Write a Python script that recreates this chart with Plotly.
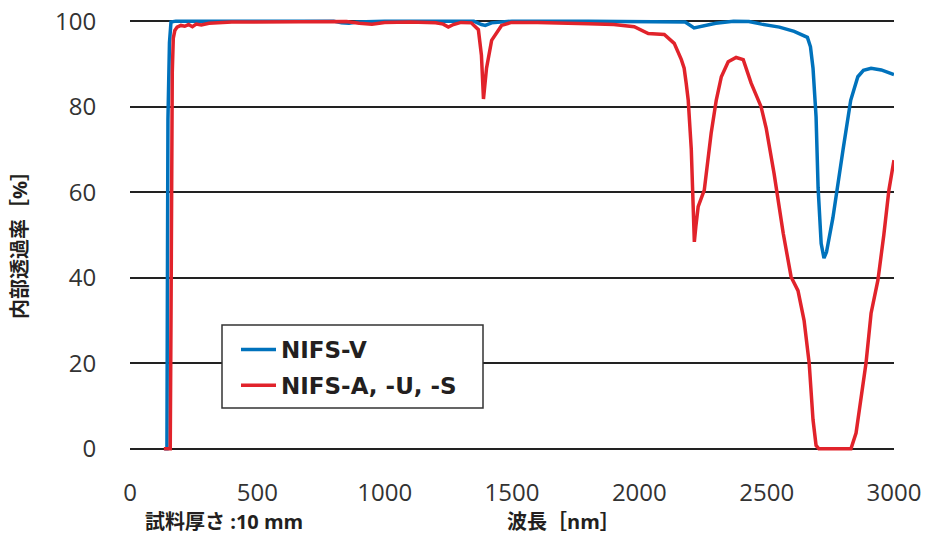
import plotly.graph_objects as go

# NIFS-V (blue)
wl_v = [135, 145, 147, 149, 155, 161, 180, 300, 500, 800, 830, 860, 890, 1000, 1200, 1350,
        1380, 1395, 1420, 1500, 1800, 2100, 2180, 2215, 2250, 2300, 2370, 2430, 2480, 2550,
        2608, 2640, 2660, 2672, 2682, 2694, 2702, 2714, 2725, 2735, 2760, 2800, 2830, 2858,
        2880, 2910, 2950, 3000]
t_v = [0, 0, 40, 77, 95, 99.8, 100, 100, 100, 100, 99.6, 99.5, 99.8, 100, 100, 100,
       99.2, 99.0, 99.6, 100, 100, 100, 99.8, 98.4, 98.8, 99.5, 100, 99.9, 99.3, 98.6,
       97.6, 96.8, 96.2, 94, 89, 77.6, 61, 48, 44.6, 46, 54, 70, 81.5, 87,
       88.5, 89, 88.6, 87.5]

# NIFS-A, -U, -S (red)
wl_a = [133, 158, 161, 163, 166, 170, 176, 185, 200, 215, 230, 245, 260, 280, 310, 400, 600,
        850, 900, 950, 1000, 1100, 1200, 1230, 1250, 1270, 1300, 1340, 1368, 1380, 1388,
        1395, 1400, 1420, 1459, 1498, 1600, 1800, 1900, 1980, 2035, 2098, 2137, 2165, 2176,
        2184, 2192, 2204, 2212, 2216, 2222, 2231, 2255, 2282, 2302, 2322, 2349, 2380, 2408,
        2439, 2478, 2498, 2529, 2565, 2596, 2623, 2647, 2667, 2682, 2694, 2705, 2750, 2800,
        2831, 2851, 2870, 2890, 2910, 2937, 2960, 2980, 3000]
t_a = [0, 0, 30, 70, 88, 96, 97.8, 98.6, 99, 98.8, 99.2, 98.7, 99.3, 99.1, 99.5, 99.8, 99.9,
       99.9, 99.5, 99.3, 99.7, 99.8, 99.6, 99.3, 98.6, 99.2, 99.7, 99.6, 98, 92, 81.8,
       86, 89, 95.5, 99, 99.7, 99.7, 99.4, 99.2, 98.7, 97.1, 96.9, 94.8, 91, 89,
       85.5, 81.5, 70, 56.6, 48.4, 52, 56.6, 60.5, 73.8, 81.5, 87, 90.5, 91.5, 91,
       85.5, 80, 75, 64.4, 50.4, 40.2, 37, 30, 20, 6.8, 0.8, 0, 0, 0,
       0, 3.7, 12, 20, 31.7, 39.5, 50, 60.5, 67.5]

names = ["NIFS-V", "NIFS-A, -U, -S"]
colors = ["#0072BC", "#E1232B"]

x_ticks = [0, 500, 1000, 1500, 2000, 2500, 3000]
y_ticks = [0, 20, 40, 60, 80, 100]

# figure fills the whole 925x535 window (body margin removed via post_script)
W, H = 925, 535
L, R = 130, W - 894
T, B = 21 - 2.14, H - (449 + 2.14)
PW, PH = W - L - R, H - T - B


def px(x):  # page pixel x -> paper
    return (x - L) / PW


def py(y):  # page pixel y -> paper
    return (H - B - y) / PH


fig = go.Figure()
for i, (wl, t) in enumerate([(wl_v, t_v), (wl_a, t_a)]):
    fig.add_trace(go.Scatter(x=wl, y=t, mode="lines", name=names[i],
                             legendgroup=f"g{i}",
                             line=dict(color=colors[i], width=3.5)))

font_main = "Open Sans, Noto Sans CJK JP, sans-serif"
fig.update_layout(
    width=W, height=H,
    margin=dict(l=L, r=R, t=T, b=B, pad=0, autoexpand=False),
    plot_bgcolor="white", paper_bgcolor="white",
    font=dict(family=font_main, color="#333333"),
    showlegend=True,
    legend=dict(x=px(236), y=py(328), xanchor="left", yanchor="top",
                borderwidth=0, bgcolor="rgba(0,0,0,0)", itemwidth=35,
                font=dict(size=23, family="DejaVu Sans, sans-serif", color="#231f20",
                          weight="bold"),
                traceorder="grouped", tracegroupgap=3),
    xaxis=dict(range=[0, 3000], tickvals=x_ticks, showgrid=False, zeroline=False,
               showline=False, ticks="outside", ticklen=20, tickcolor="rgba(0,0,0,0)",
               tickfont=dict(size=24, color="#333333"), ticklabeloverflow="allow",
               automargin=False),
    yaxis=dict(range=[-0.5, 100.5], tickvals=y_ticks, showgrid=True,
               gridcolor="#222222", gridwidth=1.5, zeroline=False, showline=False,
               ticks="outside", ticklen=28, tickcolor="rgba(0,0,0,0)",
               tickfont=dict(size=24, color="#333333"), ticklabeloverflow="allow",
               automargin=False),
    shapes=[dict(type="rect", xref="paper", yref="paper",
                 x0=px(222), x1=px(483), y0=py(408), y1=py(325),
                 fillcolor="white", line=dict(color="#333333", width=1.5),
                 layer="above")],
    annotations=[
        dict(text="<b>内部透過率［%］</b>", x=px(20), y=py(240), xref="paper", yref="paper",
             xanchor="center", yanchor="middle",
             showarrow=False, textangle=-90, font=dict(size=20, color="#231f20")),
        dict(text="<b>試料厚さ :10 mm</b>", x=px(143), y=py(522), xref="paper", yref="paper",
             xanchor="left", yanchor="middle", showarrow=False,
             font=dict(size=20, color="#231f20")),
        dict(text="<b>波長［nm］</b>", x=px(505), y=py(522), xref="paper", yref="paper",
             xanchor="left", yanchor="middle", showarrow=False,
             font=dict(size=20, color="#231f20")),
    ],
)

fig.write_html("out.html", config={"displayModeBar": False},
               post_script="document.body.style.margin='0';"
                           "document.body.style.overflow='hidden';")
